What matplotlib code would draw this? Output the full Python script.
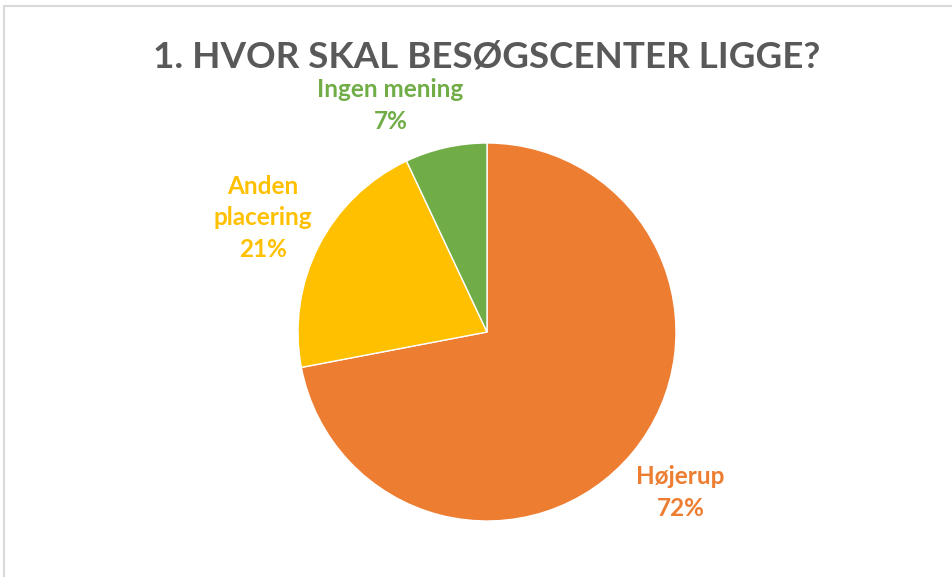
import matplotlib.pyplot as plt
from matplotlib.patches import Rectangle

# Survey answers
categories = ["Højerup", "Anden\nplacering", "Ingen mening"]
shares = [72, 21, 7]
colors = ["#ED7D31", "#FFC000", "#70AD47"]

plt.rcParams["font.family"] = ["Lato", "DejaVu Sans"]

fig = plt.figure(figsize=(9.52, 5.77), dpi=100)

# Light gray chart border (runs off the right and bottom edges)
fig.patches.append(Rectangle((3.5 / 952, -0.1), 1.2, 1.1 - 5.5 / 577,
                             transform=fig.transFigure, fill=False,
                             edgecolor="#D9D9D9", linewidth=1.5))

fig.text(487 / 952, 1 - 57 / 577, "1. HVOR SKAL BESØGSCENTER LIGGE?",
         ha="center", va="center", fontsize=26.5, fontweight="bold",
         color="#595959")

# Pie axes: centre (487, 332) px, radius 189 px
r = 189
ax = fig.add_axes([(487 - r) / 952, 1 - (332 + r) / 577, 2 * r / 952, 2 * r / 577])
wedges, texts = ax.pie(
    shares,
    colors=colors,
    startangle=90,
    counterclock=False,
    labels=[f"{c}\n{s}%" for c, s in zip(categories, shares)],
    labeldistance=1.33,
    radius=1,
    wedgeprops=dict(edgecolor="white", linewidth=1),
    textprops=dict(fontsize=17.5, fontweight="bold", ha="center", va="center",
                   linespacing=1.45),
)
for t, c in zip(texts, colors):
    t.set_color(c)
    t.set_ha("center")

# Excel nudges the small slice label left, away from the title
x, y = texts[2].get_position()
texts[2].set_position((x - 0.22, y - 0.10))

ax.set_xlim(-1, 1)
ax.set_ylim(-1, 1)
ax.set_aspect("auto")

plt.savefig("out.png", dpi=100)
